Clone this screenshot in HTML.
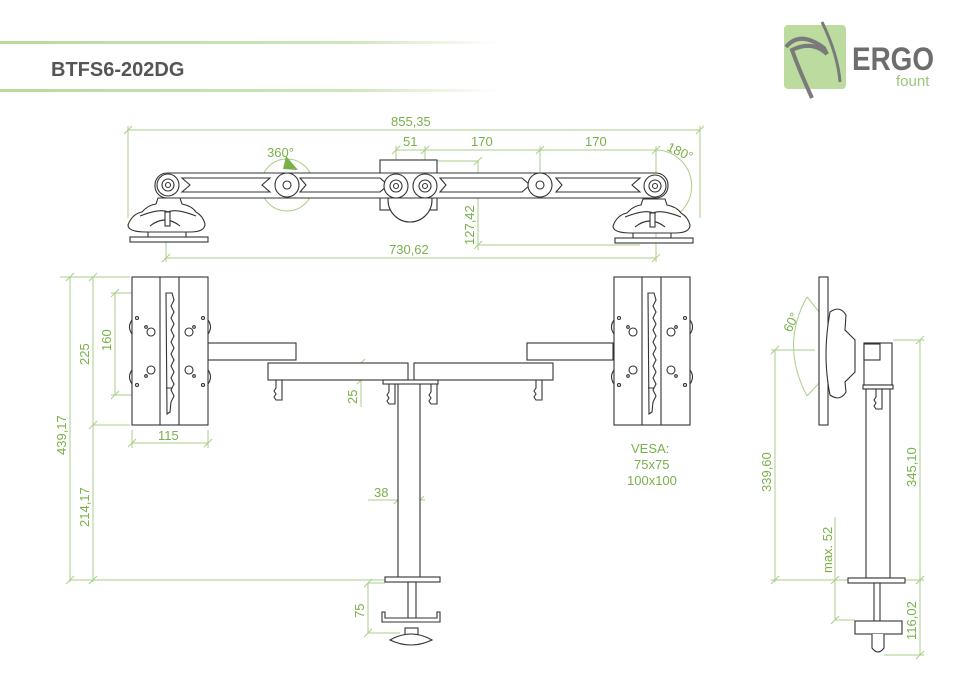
<!DOCTYPE html>
<html><head><meta charset="utf-8"><style>
html,body{margin:0;padding:0;background:#fff}
svg{display:block}
text{font-family:"Liberation Sans",sans-serif}
.g{fill:#7ab04a;font-size:13px}
.d{stroke:#a9cf8a;stroke-width:1;fill:none}
.k{stroke:#333;stroke-width:1.1;fill:#fff}
.kn{stroke:#333;stroke-width:1.1;fill:none}
</style></head><body>
<svg width="980" height="686" viewBox="0 0 980 686" xmlns="http://www.w3.org/2000/svg">
<defs>
<linearGradient id="gl" x1="0" x2="1"><stop offset="0" stop-color="#b9d99b"/><stop offset="0.7" stop-color="#cfe5bb"/><stop offset="1" stop-color="#fff"/></linearGradient>
</defs>
<rect x="0" y="41" width="500" height="3" fill="url(#gl)"/>
<rect x="0" y="89" width="500" height="3" fill="url(#gl)"/>
<text x="51" y="76" font-size="20" font-weight="bold" fill="#555">BTFS6-202DG</text>
<rect x="784" y="25" width="62" height="64" rx="4" fill="#bcdb9e"/>
<path d="M786 47 Q800 30 824 48 L827 54 Q812 40 792 50 Q800 72 812 98" stroke="#7a7a7a" stroke-width="4" fill="none"/>
<path d="M822 22 Q838 55 840 82" stroke="#7a7a7a" stroke-width="3" fill="none"/>
<text x="852" y="70" font-size="32" font-weight="bold" fill="#6d6d6d" textLength="82" lengthAdjust="spacingAndGlyphs">ERGO</text>
<text x="896" y="86" font-size="15" fill="#9cc47a">fount</text>

<g class="d">
<line x1="128" y1="130" x2="700" y2="130"/><line x1="128" y1="126" x2="128" y2="218"/><line x1="700" y1="126" x2="700" y2="218"/>
<line x1="124" y1="134" x2="132" y2="126"/><line x1="696" y1="134" x2="704" y2="126"/>
<line x1="396" y1="150" x2="656" y2="150"/><line x1="396" y1="146" x2="396" y2="190"/><line x1="425" y1="146" x2="425" y2="190"/><line x1="540" y1="146" x2="540" y2="185"/><line x1="656" y1="146" x2="656" y2="245"/>
<line x1="392" y1="154" x2="400" y2="146"/><line x1="421" y1="154" x2="429" y2="146"/><line x1="536" y1="154" x2="544" y2="146"/><line x1="652" y1="154" x2="660" y2="146"/>
<line x1="430" y1="161" x2="478" y2="161"/><line x1="478" y1="161" x2="478" y2="250"/><line x1="478" y1="245" x2="640" y2="245"/>
<line x1="474" y1="165" x2="482" y2="157"/><line x1="474" y1="249" x2="482" y2="241"/>
<line x1="166" y1="258" x2="656" y2="258"/><line x1="166" y1="240" x2="166" y2="262"/><line x1="656" y1="245" x2="656" y2="262"/>
<line x1="162" y1="262" x2="170" y2="254"/><line x1="652" y1="262" x2="660" y2="254"/>
<circle cx="287" cy="185" r="26"/>
<path d="M656 150 A36 36 0 0 1 670 219"/>
</g>
<polygon points="286,156 298,170 283,169" fill="#7ab04a"/>
<text class="g" x="391" y="126">855,35</text>
<text class="g" x="403" y="146">51</text>
<text class="g" x="471" y="146">170</text>
<text class="g" x="585" y="146">170</text>
<text class="g" x="267" y="157">360°</text>
<text class="g" x="666" y="150" transform="rotate(25 666 150)">180°</text>
<text class="g" x="474" y="245" transform="rotate(-90 474 245)">127,42</text>
<text class="g" x="389" y="254">730,62</text>

<rect class="k" x="380" y="160" width="57" height="50"/>
<circle class="k" cx="410" cy="200" r="22"/>
<rect class="k" x="155" y="173" width="513" height="25" rx="12"/>
<g class="kn">
<path d="M182 178 L270 178 L262 185 L270 192 L182 192 L190 185Z"/>
<path d="M300 178 L380 178 L388 185 L380 192 L300 192 L306 185Z"/>
<path d="M440 178 L522 178 L530 185 L522 192 L440 192 L446 185Z"/>
<path d="M556 178 L640 178 L632 185 L640 192 L556 192 L562 185Z"/>
</g>
<g class="k">
<circle cx="168" cy="185" r="11"/><circle cx="168" cy="185" r="6"/><circle cx="168" cy="185" r="2.5"/>
<circle cx="287" cy="185" r="12"/><circle cx="287" cy="185" r="4"/>
<circle cx="396" cy="186" r="12"/><circle cx="396" cy="186" r="6"/><circle cx="396" cy="186" r="2.5"/>
<circle cx="425" cy="186" r="12"/><circle cx="425" cy="186" r="6"/><circle cx="425" cy="186" r="2.5"/>
<circle cx="540" cy="185" r="12"/><circle cx="540" cy="185" r="4"/>
<circle cx="655" cy="186" r="11"/><circle cx="655" cy="186" r="6"/><circle cx="655" cy="186" r="2.5"/>
</g>
<g id="base" class="k">
<path d="M158 198 L180 198 L182 204 Q192 206 196 212 Q203 216 205 224 Q205 232 190 232 L146 232 Q128 232 128 225 Q132 214 142 212 Q148 205 156 204Z"/>
<path class="kn" d="M140 216 Q160 208 168 212 Q176 208 196 216 M150 226 Q165 214 180 226"/>
<rect x="165" y="212" width="5" height="14"/>
<rect x="130" y="237" width="78" height="5"/>
<path class="kn" d="M148 232 v5 M148 232 h6 M186 232 v5 M180 232 h6"/>
</g>
<use href="#base" transform="translate(485 1)"/>

<g class="d">
<line x1="70" y1="277" x2="70" y2="582"/><line x1="60" y1="277" x2="130" y2="277"/><line x1="66" y1="281" x2="74" y2="273"/>
<line x1="66" y1="584" x2="74" y2="576"/><line x1="70" y1="580" x2="385" y2="580"/>
<line x1="93" y1="277" x2="93" y2="582"/><line x1="89" y1="281" x2="97" y2="273"/><line x1="89" y1="429" x2="97" y2="421"/>
<line x1="93" y1="425" x2="130" y2="425"/><line x1="89" y1="584" x2="97" y2="576"/>
<line x1="115" y1="293" x2="115" y2="395"/><line x1="111" y1="297" x2="119" y2="289"/><line x1="111" y1="399" x2="119" y2="391"/>
<line x1="111" y1="293" x2="165" y2="293"/><line x1="111" y1="395" x2="165" y2="395"/>
<line x1="132" y1="430" x2="132" y2="448"/><line x1="208" y1="430" x2="208" y2="448"/><line x1="132" y1="443" x2="208" y2="443"/>
<line x1="128" y1="447" x2="136" y2="439"/><line x1="204" y1="447" x2="212" y2="439"/>
<line x1="361" y1="363" x2="361" y2="407"/><line x1="357" y1="367" x2="365" y2="359"/><line x1="357" y1="384" x2="365" y2="376"/>
<line x1="368" y1="500" x2="425" y2="500"/><line x1="394" y1="504" x2="402" y2="496"/><line x1="416" y1="504" x2="424" y2="496"/>
<line x1="368" y1="583" x2="385" y2="583"/><line x1="368" y1="583" x2="368" y2="633"/><line x1="368" y1="633" x2="400" y2="633"/>
<line x1="364" y1="587" x2="372" y2="579"/><line x1="364" y1="637" x2="372" y2="629"/>
</g>
<text class="g" x="66" y="455" transform="rotate(-90 66 455)">439,17</text>
<text class="g" x="89" y="527" transform="rotate(-90 89 527)">214,17</text>
<text class="g" x="89" y="365" transform="rotate(-90 89 365)">225</text>
<text class="g" x="111" y="351" transform="rotate(-90 111 351)">160</text>
<text class="g" x="158" y="440">115</text>
<text class="g" x="357" y="404" transform="rotate(-90 357 404)">25</text>
<text class="g" x="374" y="497">38</text>
<text class="g" x="364" y="618" transform="rotate(-90 364 618)">75</text>
<text class="g" x="631" y="453">VESA:</text>
<text class="g" x="634" y="469">75x75</text>
<text class="g" x="627" y="485">100x100</text>

<g class="k">
<rect x="208" y="343" width="88" height="17"/>
<rect x="527" y="343" width="86" height="17"/>
<rect x="268" y="363" width="140" height="17"/>
<rect x="414" y="363" width="139" height="17"/>
<rect x="398" y="383" width="22" height="195"/>
<rect x="383" y="380" width="55" height="4"/>
<rect x="385" y="577" width="55" height="5"/>
<rect x="408" y="582" width="8" height="38"/>
<path d="M382 612 L382 622 L440 622 L440 612 L437 612 L437 618 L385 618 L385 612Z"/>
<rect x="405" y="628" width="13" height="7"/>
<path d="M390 640 Q411 628 432 640 Q411 650 390 640Z"/>
</g>
<g class="kn">
<path d="M276 380 v8 l-2 3 l2 3 l-2 3 l2 3 h6 v-20 M389 384 v8 l-2 3 l2 3 l-2 3 l2 3 h6 v-20 M431 384 v8 l-2 3 l2 3 l-2 3 l2 3 h6 v-20 M536 380 v8 l-2 3 l2 3 l-2 3 l2 3 h6 v-20"/>
</g>
<g id="mon">
<rect class="k" x="132" y="277" width="76" height="148"/>
<line class="kn" x1="160" y1="277" x2="160" y2="425"/><line class="kn" x1="179" y1="277" x2="179" y2="425"/>
<path class="kn" d="M166 293 L172 293 L174 300 L171 306 L174 312 L171 318 L174 324 L171 330 L174 336 L171 342 L174 348 L171 354 L174 360 L171 366 L174 372 L171 378 L174 384 L171 390 L174 396 L171 402 L170 412 L167 414 Z M166 388 L172 388"/>
<g class="kn">
<circle cx="151" cy="332" r="4"/><circle cx="151" cy="370" r="4"/><circle cx="189" cy="332" r="4"/><circle cx="189" cy="370" r="4"/>
<circle cx="137" cy="318" r="1.5"/><circle cx="137" cy="385" r="1.5"/><circle cx="203" cy="318" r="1.5"/><circle cx="203" cy="385" r="1.5"/>
<circle cx="146" cy="327" r="1.3"/><circle cx="146" cy="376" r="1.3"/><circle cx="194" cy="327" r="1.3"/><circle cx="194" cy="376" r="1.3"/>
<path d="M132 320 Q127 327 132 334 M132 370 Q127 377 132 384 M208 320 Q213 327 208 334 M208 370 Q213 377 208 384"/>
</g>
</g>
<use href="#mon" transform="translate(482 0)"/>

<g class="d">
<line x1="775" y1="350" x2="775" y2="582"/><line x1="771" y1="354" x2="779" y2="346"/><line x1="771" y1="584" x2="779" y2="576"/>
<line x1="771" y1="350" x2="815" y2="350"/><line x1="771" y1="580" x2="848" y2="580"/>
<line x1="920" y1="340" x2="920" y2="655"/><line x1="893" y1="340" x2="924" y2="340"/><line x1="916" y1="344" x2="924" y2="336"/>
<line x1="905" y1="580" x2="924" y2="580"/><line x1="916" y1="584" x2="924" y2="576"/>
<line x1="884" y1="655" x2="924" y2="655"/><line x1="916" y1="659" x2="924" y2="651"/>
<line x1="835" y1="517" x2="835" y2="620"/><line x1="831" y1="584" x2="839" y2="576"/><line x1="831" y1="624" x2="839" y2="616"/><line x1="835" y1="620" x2="855" y2="620"/>
<path d="M807 297 L850 350 L807 396"/>
<path d="M807 297 Q780 345 807 396"/>
</g>
<text class="g" x="771" y="492" transform="rotate(-90 771 492)">339,60</text>
<text class="g" x="916" y="487" transform="rotate(-90 916 487)">345,10</text>
<text class="g" x="832" y="573" transform="rotate(-90 832 573)">max. 52</text>
<text class="g" x="916" y="640" transform="rotate(-90 916 640)">116,02</text>
<text class="g" x="791" y="333" transform="rotate(-65 791 333)">60°</text>

<g class="k">
<rect x="819" y="277" width="9" height="148"/>
<path d="M830 312 Q840 305 846 315 L845 330 L855 340 L855 372 L845 382 L846 392 Q840 402 830 395 Q822 355 830 312Z"/>
<rect x="864" y="343" width="28" height="42"/>
<rect x="864" y="344" width="16" height="16"/>
<rect x="863" y="385" width="30" height="4"/>
<rect x="866" y="389" width="24" height="189"/>
<rect x="848" y="578" width="57" height="5"/>
<rect x="874" y="583" width="6" height="38"/>
<rect x="855" y="621" width="47" height="13"/>
<path d="M872 634 L872 648 Q878 656 884 648 L884 634"/>
</g>
<path class="kn" d="M876 389 v8 l-2 3 l2 3 l-2 3 l2 3 h6 v-20"/>
</svg>
</body></html>
